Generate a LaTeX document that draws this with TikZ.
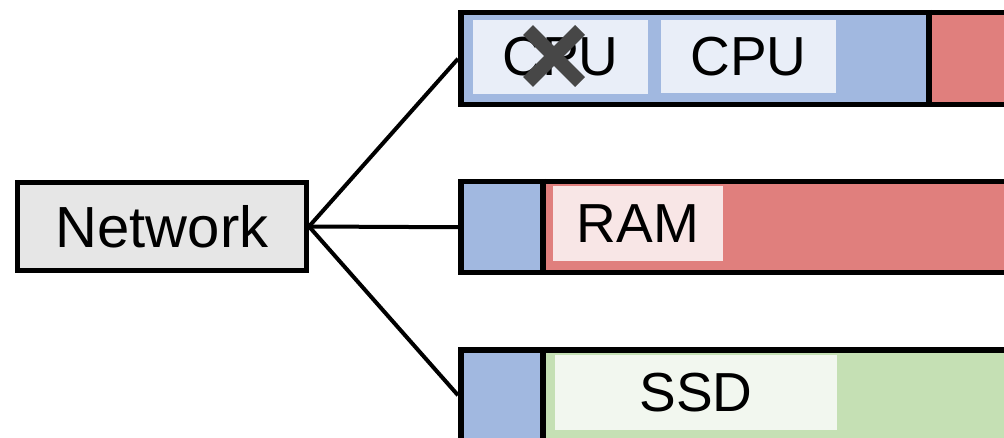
\documentclass[tikz,border=0pt]{standalone}
\usepackage{fontspec}
\setmainfont{Liberation Sans}
\definecolor{netgray}{HTML}{E6E6E6}
\definecolor{cpublue}{HTML}{A1B8E0}
\definecolor{ramred}{HTML}{E07F7D}
\definecolor{ssdgreen}{HTML}{C5E0B4}
\definecolor{cpulight}{HTML}{E9EEF8}
\definecolor{ramlight}{HTML}{F8E6E6}
\definecolor{ssdlight}{HTML}{F2F7EF}
\definecolor{crossgray}{HTML}{474747}
\begin{document}
\begin{tikzpicture}[x=1pt,y=-1pt,
  seg/.style={draw=none, inner sep=0, outer sep=0, anchor=north west},
  tag/.style={inner sep=0, outer sep=0, anchor=north west,
              font=\fontsize{55}{60}\selectfont},
  barbox/.style={draw=black, line width=5.5pt, inner sep=0, anchor=north west},
  divider/.style={draw=black, line width=5.5pt},
  conn/.style={draw=black, line width=4pt},
  cross/.style={draw=crossgray, line width=14pt}]
\clip (0,0) rectangle (1004,438);

% source box
\node[draw=black, line width=5pt, fill=netgray, inner sep=0, anchor=north west,
      minimum width=289, minimum height=88,
      font=\fontsize{58}{64}\selectfont] (net) at (15,180) {Network};

% top bar: compute units and memory
\node[seg, fill=cpublue, minimum width=471, minimum height=92] (cpuSeg) at (458,10) {};
\node[seg, fill=ramred, minimum width=90, minimum height=92] (cpuRest) at (929,10) {};
\node[tag, fill=cpulight, minimum width=175, minimum height=74] (cpuA) at (473,20) {CPU};
\node[tag, fill=cpulight, minimum width=175, minimum height=73] (cpuB) at (661,20) {CPU};
\draw[cross] (528,30) -- (580,82) (580,30) -- (528,82);
\node[barbox, minimum width=560, minimum height=92] (cpuBar) at (458,10) {};
\draw[divider] (cpuSeg.north east) -- (cpuSeg.south east);

% middle bar: memory
\node[seg, fill=cpublue, minimum width=85, minimum height=91] (ramHead) at (458,179) {};
\node[seg, fill=ramred, minimum width=480, minimum height=91] (ramSeg) at (543,179) {};
\node[tag, fill=ramlight, minimum width=170, minimum height=75] (ram) at (553,186) {RAM};
\node[barbox, minimum width=560, minimum height=91] (ramBar) at (458,179) {};
\draw[divider] (ramHead.north east) -- (ramHead.south east);

% bottom bar: storage
\node[seg, fill=cpublue, minimum width=85, minimum height=91] (ssdHead) at (458,347) {};
\node[seg, fill=ssdgreen, minimum width=480, minimum height=91] (ssdSeg) at (543,347) {};
\node[tag, fill=ssdlight, minimum width=282, minimum height=75] (ssd) at (555,355) {SSD};
\node[barbox, minimum width=560, minimum height=91] (ssdBar) at (458,347) {};
\draw[divider] (ssdHead.north east) -- (ssdHead.south east);

% connectors
\draw[conn] (net.east) -- (cpuBar.west);
\draw[conn] (net.east) -- (ramBar.west);
\draw[conn] (net.east) -- (ssdBar.west);
\end{tikzpicture}
\end{document}
